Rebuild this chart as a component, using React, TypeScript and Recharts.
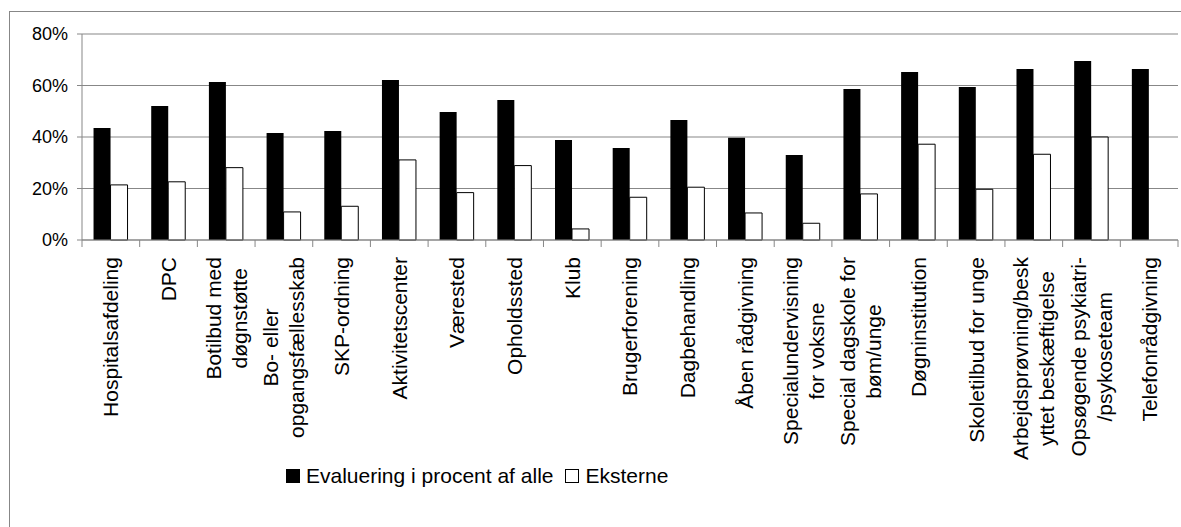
import { BarChart, Bar, XAxis, YAxis, CartesianGrid } from 'recharts';

const categories = [
  'Hospitalsafdeling',
  'DPC',
  'Botilbud med\ndøgnstøtte',
  'Bo- eller\nopgangsfællesskab',
  'SKP-ordning',
  'Aktivitetscenter',
  'Værested',
  'Opholdssted',
  'Klub',
  'Brugerforening',
  'Dagbehandling',
  'Åben rådgivning',
  'Specialundervisning\nfor voksne',
  'Special dagskole for\nbøm/unge',
  'Døgninstitution',
  'Skoletilbud for unge',
  'Arbejdsprøvning/besk\nyttet beskæftigelse',
  'Opsøgende psykiatri-\n/psykoseteam',
  'Telefonrådgivning',
];
const evaluering = [43.5, 52.0, 61.4, 41.6, 42.3, 62.1, 49.7, 54.4, 38.8, 35.7, 46.6, 39.7, 33.0, 58.6, 65.2, 59.4, 66.4, 69.5, 66.4];
const eksterne = [21.4, 22.6, 28.1, 10.9, 13.1, 31.1, 18.4, 28.9, 4.3, 16.6, 20.5, 10.5, 6.5, 17.9, 37.2, 19.7, 33.3, 40.0, null];
const yTicks = [0, 20, 40, 60, 80];
const seriesNames = ['Evaluering i procent af alle', 'Eksterne'];

const data = categories.map((name, i) => ({ name, evaluering: evaluering[i], eksterne: eksterne[i] }));

const FONT = '"Liberation Sans", Arial, sans-serif';
const GRID = '#878787';
const W = 1181;
const H = 527;
const Y_AXIS_W = 82;
const RIGHT = 3;
const BAND = (W - Y_AXIS_W - RIGHT) / categories.length;
const LABEL_SIZE = 21;
const LINE_PITCH = 26;
const LABEL_GAP = 17;

let ctx: CanvasRenderingContext2D | null = null;
function textWidth(s: string) {
  if (!ctx) ctx = document.createElement('canvas').getContext('2d');
  if (!ctx) return s.length * LABEL_SIZE * 0.5;
  ctx.font = `${LABEL_SIZE}px ${FONT}`;
  return ctx.measureText(s).width;
}

function CategoryTick(props: any) {
  const { x, y, payload, index } = props;
  const lines = String(payload.value).split('\n');
  const maxW = Math.max(...lines.map(textWidth));
  const cy = y + LABEL_GAP + maxW / 2;
  const last = index === categories.length - 1;
  return (
    <g>
      <line x1={x - BAND / 2} x2={x - BAND / 2} y1={y} y2={y + 7} stroke={GRID} />
      {last && <line x1={x + BAND / 2} x2={x + BAND / 2} y1={y} y2={y + 7} stroke={GRID} />}
      {lines.map((line, i) => {
        const cx = x + (i - (lines.length - 1) / 2) * LINE_PITCH;
        return (
          <text
            key={i}
            x={cx}
            y={cy}
            transform={`rotate(-90, ${cx}, ${cy})`}
            textAnchor="middle"
            dominantBaseline="central"
            fontSize={LABEL_SIZE}
            fontFamily={FONT}
            fill="#000"
          >
            {line}
          </text>
        );
      })}
    </g>
  );
}

export default function App() {
  return (
    <div style={{ position: 'absolute', left: 0, top: 0, width: W, height: H, overflow: 'hidden', background: '#fff' }}>
      <div style={{ position: 'absolute', left: 9, top: 11, width: W + 20, height: H + 20, border: `1px solid ${GRID}` }} />
      <div style={{ position: 'absolute', left: 0, top: 0 }}>
        <BarChart
          width={W}
          height={H}
          data={data}
          margin={{ top: 34, right: RIGHT, bottom: 7, left: 0 }}
          barCategoryGap="20%"
          barGap={0}
        >
          <CartesianGrid vertical={false} stroke={GRID} />
          <XAxis
            dataKey="name"
            interval={0}
            height={280}
            tickSize={0}
            tickMargin={0}
            tickLine={false}
            axisLine={{ stroke: GRID }}
            tick={<CategoryTick />}
          />
          <YAxis
            domain={[0, 80]}
            ticks={yTicks}
            interval={0}
            width={Y_AXIS_W}
            tickFormatter={(v: number) => `${v}%`}
            axisLine={{ stroke: GRID }}
            tickLine={{ stroke: GRID }}
            tickSize={5}
            tickMargin={9}
            tick={{ fill: '#000', fontSize: 18, fontFamily: FONT }}
          />
          <Bar dataKey="evaluering" name={seriesNames[0]} fill="#000" isAnimationActive={false} />
          <Bar dataKey="eksterne" name={seriesNames[1]} fill="#fff" stroke="#000" strokeWidth={1} isAnimationActive={false} />
        </BarChart>
      </div>
      <div
        style={{
          position: 'absolute',
          left: 286,
          top: 464,
          display: 'flex',
          alignItems: 'center',
          fontFamily: FONT,
          fontSize: 21,
          lineHeight: '24px',
          color: '#000',
          whiteSpace: 'nowrap',
        }}
      >
        {seriesNames.map((n, i) => (
          <span key={n} style={{ display: 'flex', alignItems: 'center', marginRight: 12 }}>
            <span
              style={{
                display: 'inline-block',
                width: 14,
                height: 14,
                boxSizing: 'border-box',
                background: i === 0 ? '#000' : '#fff',
                border: '1px solid #000',
                marginRight: 6,
              }}
            />
            {n}
          </span>
        ))}
      </div>
    </div>
  );
}
